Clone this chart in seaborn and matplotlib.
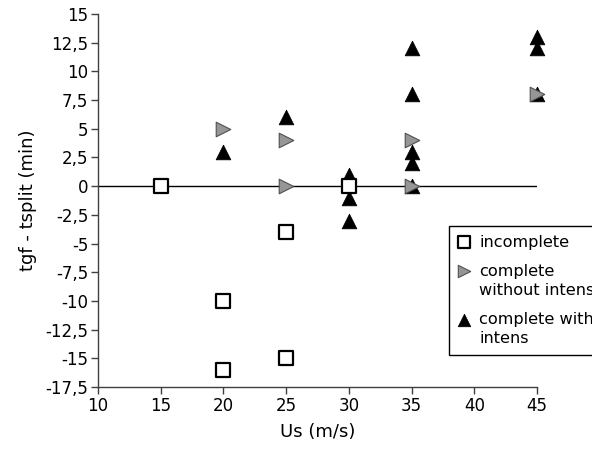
import matplotlib
matplotlib.use("Agg")
import matplotlib.pyplot as plt
from matplotlib.ticker import FuncFormatter
import pandas as pd
import seaborn as sns

# Wind speed Us (m/s) and time difference tgf - tsplit (min) per case type
incomplete_us = [15, 20, 20, 25, 25, 30]
incomplete_dt = [0, -10, -16, -4, -15, 0]

no_intens_us = [20, 25, 25, 35, 35, 45]
no_intens_dt = [5, 4, 0, 4, 0, 8]

intens_us = [20, 25, 30, 30, 30, 35, 35, 35, 35, 35, 45, 45, 45]
intens_dt = [3, 6, 1, -1, -3, 12, 8, 3, 2, 0, 13, 12, 8]

labels = ["incomplete", "complete\nwithout intens", "complete with\nintens"]

x_ticks = [10, 15, 20, 25, 30, 35, 40, 45]
y_ticks = [15, 12.5, 10, 7.5, 5, 2.5, 0, -2.5, -5, -7.5, -10, -12.5, -15, -17.5]

sns.set_style("ticks")
plt.rcParams["font.family"] = ["DejaVu Sans"]
plt.rcParams["text.color"] = "black"
plt.rcParams["axes.labelcolor"] = "black"

fig = plt.figure(figsize=(5.92, 4.53), dpi=100)
ax = fig.add_axes([98 / 592, 1 - 387 / 453, (537 - 98) / 592, (387 - 14) / 453])

ax.axhline(0, color="black", lw=1.0, zorder=1)

df_in = pd.DataFrame({"Us": intens_us, "dt": intens_dt})
df_no = pd.DataFrame({"Us": no_intens_us, "dt": no_intens_dt})
df_inc = pd.DataFrame({"Us": incomplete_us, "dt": incomplete_dt})

sns.scatterplot(data=df_in, x="Us", y="dt", marker="^", s=110, color="black",
                edgecolor="black", linewidth=0.6, ax=ax, zorder=3, clip_on=False)
sns.scatterplot(data=df_no, x="Us", y="dt", marker=">", s=110, color="#969696",
                edgecolor="#505050", linewidth=0.8, ax=ax, zorder=4, clip_on=False)
sns.scatterplot(data=df_inc, x="Us", y="dt", marker="s", s=105, color="white",
                edgecolor="black", linewidth=1.6, ax=ax, zorder=5, clip_on=False)

colls = ax.collections
handles = [colls[2], colls[1], colls[0]]

ax.set_xlim(10, 45)
ax.set_ylim(-17.5, 15)
ax.set_xticks(x_ticks)
ax.set_yticks(y_ticks)


def comma_fmt(v, pos):
    return f"{v:g}".replace(".", ",")


ax.xaxis.set_major_formatter(FuncFormatter(comma_fmt))
ax.yaxis.set_major_formatter(FuncFormatter(comma_fmt))

for side in ["top", "right"]:
    ax.spines[side].set_visible(False)
for side in ["left", "bottom"]:
    ax.spines[side].set_color("#404040")
    ax.spines[side].set_linewidth(1.0)
ax.tick_params(axis="both", direction="out", length=5, width=1.0,
               color="#404040", labelsize=12, labelcolor="black", pad=2)

ax.set_xlabel("Us (m/s)", fontsize=13, labelpad=6, color="black")
ax.set_ylabel("tgf - tsplit (min)", fontsize=13, labelpad=6, color="black")

leg = fig.legend(handles, labels, loc="upper left",
                 bbox_to_anchor=(449 / 592, 1 - 226 / 453),
                 fontsize=11.6, frameon=True, fancybox=False, framealpha=1,
                 edgecolor="black", borderpad=0.55, handletextpad=0.6,
                 handlelength=0.72, labelspacing=0.9, borderaxespad=0,
                 markerscale=0.85, labelcolor="black")
leg.get_frame().set_linewidth(1.0)
for t in leg.get_texts():
    t.set_linespacing(1.3)

# put each marker next to the first line of its label
for column in leg._legend_handle_box.get_children():
    for item in column.get_children():
        item.align = "top"

fig.savefig("out.png", dpi=100)
